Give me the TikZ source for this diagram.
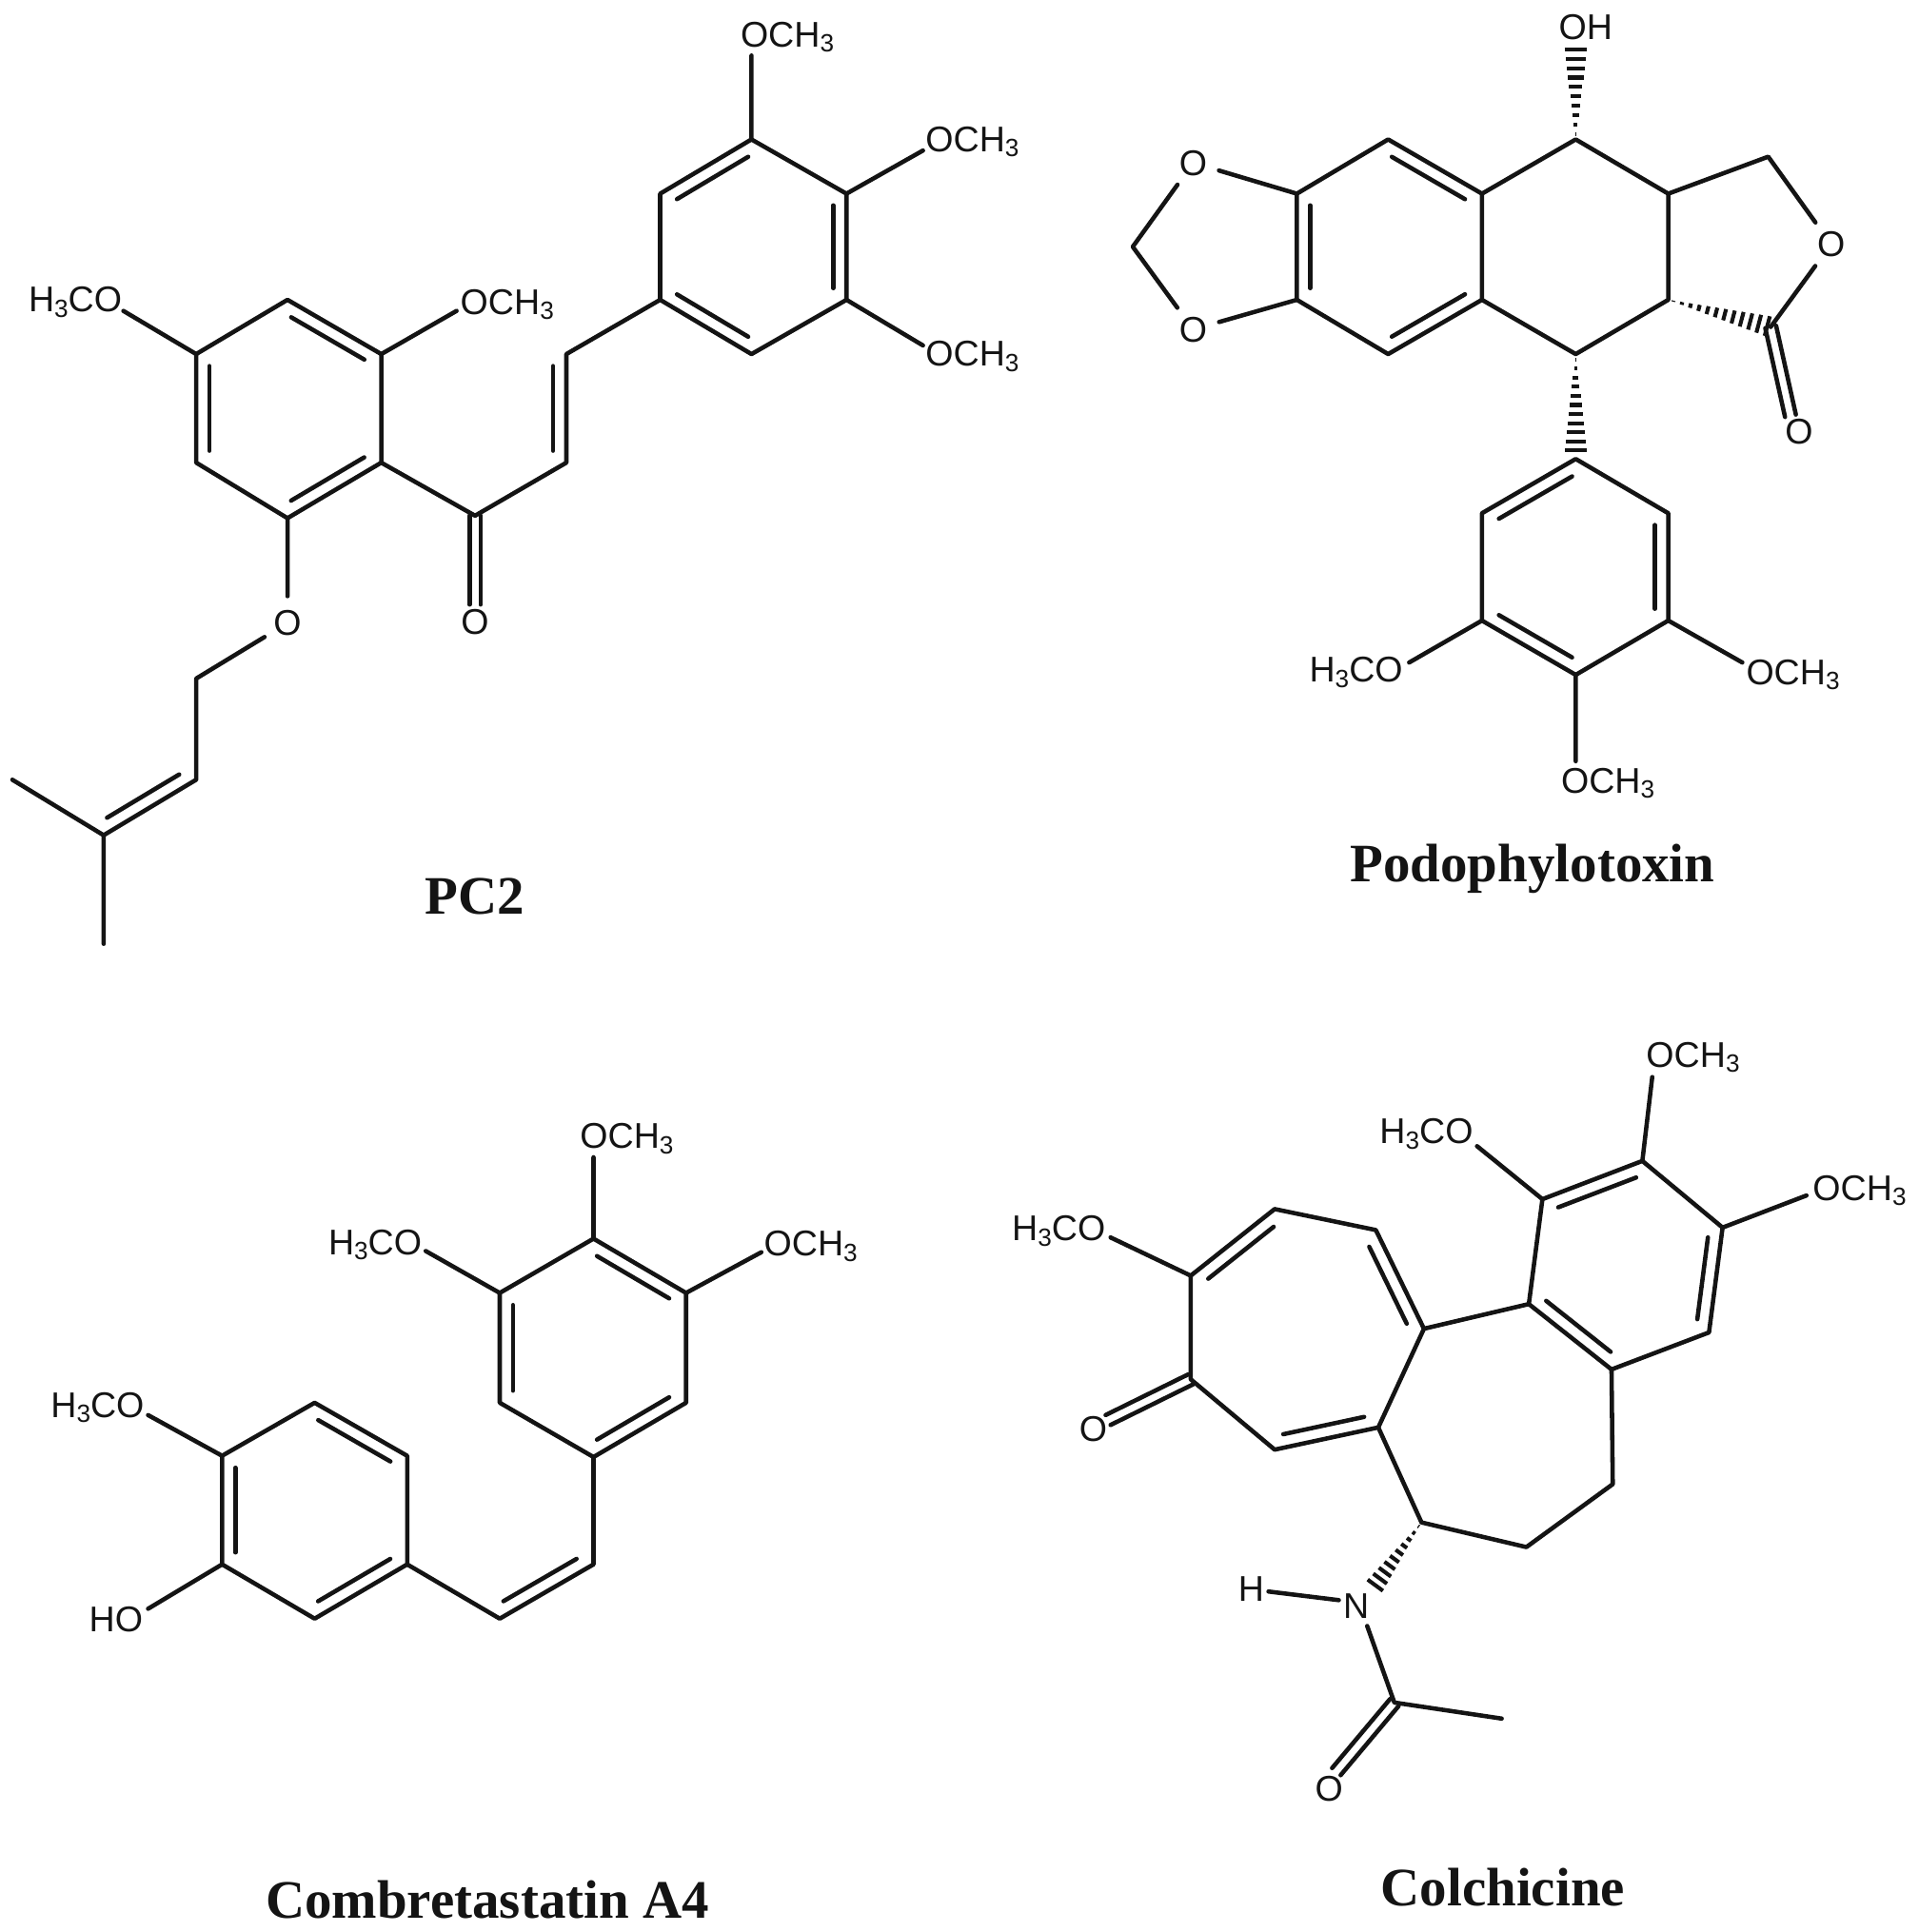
\documentclass[tikz,border=0pt]{standalone}
\usepackage{fontspec}
\setmainfont{Liberation Sans}
\newfontfamily\capfont{Liberation Serif}
\usetikzlibrary{calc}
\newcommand\subthree{\raisebox{-.28ex}{\fontsize{11.5}{11.5}\selectfont 3}}
\newcommand\och{OCH\subthree}
\newcommand\hco{H\subthree CO}
% inner line of a double bond: lies to the left of a -> b
\newcommand\dbl[2]{\draw[bond] ($(#1)!.11!(#2)!.215cm!90:(#2)$) -- ($(#1)!.89!(#2)!.215cm!90:(#2)$);}
% symmetric double bond
\newcommand\dbo[2]{\draw[bond] ($(#1)!.09cm!90:(#2)$) -- ($(#2)!.09cm!-90:(#1)$);
  \draw[bond] ($(#1)!.09cm!-90:(#2)$) -- ($(#2)!.09cm!90:(#1)$);}
% hashed wedge: narrow at a, wide at b
\newcommand\hashw[4]{\foreach \i in {1,...,#3}{%
  \pgfmathsetmacro\t{(\i-0.4)/#3}\pgfmathsetmacro\w{\t*#4}%
  \draw[hashl] ($(#1)!\t!(#2)!\w cm!90:(#2)$) -- ($(#1)!\t!(#2)!\w cm!-90:(#2)$);}}
\tikzset{
  bond/.style={line width=2pt,line cap=round,line join=round,color=black!92},
  hashl/.style={line width=1.8pt,color=black!92},
  atom/.style={font=\fontsize{16.5}{16.5}\selectfont,inner sep=0pt,color=black!92},
  oatom/.style={atom,circle,inner sep=2.5pt},
  caption/.style={font=\capfont\bfseries\fontsize{25}{25}\selectfont,inner sep=0pt,color=black!92}
}
\begin{document}
\begin{tikzpicture}[x=0.02cm,y=-0.02cm]
\useasboundingbox (0,0) rectangle (1555,1566);
% ===== PC2 =====
\foreach \n/\x/\y in {pa/609/113,pb/535/157,pc/535/243,pd/609/287,pe/686/243,pf/686/157,
  pv1/459/287,pv2/459/375,pk/385/418,
  qa/233/243,qb/159/287,qc/159/375,qd/233/420,qe/309/375,qf/309/287,
  pch/159/550,pd1/159/632,pd2/84/677,pm1/10/632,pm2/84/765,
  pt1/609/45,pt2/748/122,pt3/748/280,pt4/370/252,pt5/100/252,pko/385/490}
  {\coordinate (\n) at (\x,\y);}
\node[atom] (pl1) at (638,30) {\och};
\node[atom] (pl2) at (788,115) {\och};
\node[atom] (pl3) at (788,289) {\och};
\node[atom] (pl4) at (411,247) {\och};
\node[atom] (pl5) at (61,245) {\hco};
\node[oatom] (po1) at (233,505) {O};
\node[oatom] (po2) at (385,504) {O};
\draw[bond] (pa)--(pb)--(pc)--(pd)--(pe)--(pf)--cycle;
\dbl{pa}{pb}\dbl{pc}{pd}\dbl{pe}{pf}
\draw[bond] (pa)--(pt1) (pf)--(pt2) (pe)--(pt3);
\draw[bond] (pc)--(pv1)--(pv2)--(pk)--(qe);
\dbl{pv2}{pv1}
\dbo{pk}{pko}
\draw[bond] (qa)--(qb)--(qc)--(qd)--(qe)--(qf)--cycle;
\dbl{qb}{qc}\dbl{qd}{qe}\dbl{qf}{qa}
\draw[bond] (qf)--(pt4) (qb)--(pt5);
\draw[bond] (qd)--(po1)--(pch)--(pd1)--(pd2)--(pm1) (pd2)--(pm2);
\dbl{pd2}{pd1}
\node[caption] (cap1) at (385,727) {PC2};
% ===== Podophylotoxin =====
\foreach \n/\x/\y in {ra/1125/113,rb/1051/157,rc/1051/243,rd/1125/287,re/1201/243,rf/1201/157,
  sa/1277/113,sb/1352/157,sc/1352/243,sd/1277/287,
  rch/918/200,lc/1433/127,lk/1435/265,lko/1451/337,oh/1277/37,
  ta/1277/372,tb/1201/416,tc/1201/503,td/1277/547,te/1352/503,tf/1352/416,
  tt1/1142/537,tt2/1412/537,tt3/1277/617,whd/1277/368}
  {\coordinate (\n) at (\x,\y);}
\node[oatom] (ro1) at (967,132) {O};
\node[oatom] (ro2) at (967,267) {O};
\node[oatom] (ro3) at (1484,198) {O};
\node[oatom] (ro4) at (1458,350) {O};
\node[atom] (rl1) at (1285,22) {OH};
\node[atom] (rl2) at (1099,545) {\hco};
\node[atom] (rl3) at (1453,547) {\och};
\node[atom] (rl4) at (1303,635) {\och};
\draw[bond] (ra)--(rb)--(rc)--(rd)--(re)--(rf)--cycle;
\dbl{rb}{rc}\dbl{rd}{re}\dbl{rf}{ra}
\draw[bond] (rf)--(sa)--(sb)--(sc)--(sd)--(re);
\draw[bond] (rb)--(ro1)--(rch)--(ro2)--(rc);
\draw[bond] (sb)--(lc)--(ro3)--(lk);
\hashw{sc}{lk}{12}{.17}
\dbo{lk}{lko}
\hashw{sa}{oh}{10}{.19}
\hashw{sd}{whd}{11}{.19}
\draw[bond] (ta)--(tb)--(tc)--(td)--(te)--(tf)--cycle;
\dbl{ta}{tb}\dbl{tc}{td}\dbl{te}{tf}
\draw[bond] (tc)--(tt1) (te)--(tt2) (td)--(tt3);
\node[caption] (cap2) at (1242,704) {Podophylotoxin};
% ===== Combretastatin A4 =====
\foreach \n/\x/\y in {ua/481/1004,ub/405/1048,uc/405/1137,ud/481/1181,ue/556/1137,uf/556/1048,
  uv1/481/1268,uv2/405/1312,
  va/255/1137,vb/180/1180,vc/180/1268,vd/255/1312,ve/330/1268,vf/330/1180,
  ut1/481/938,ut2/345/1014,ut3/617/1015,ut4/120/1147,ut5/120/1304}
  {\coordinate (\n) at (\x,\y);}
\node[atom] (ul1) at (508,923) {\och};
\node[atom] (ul2) at (304,1009) {\hco};
\node[atom] (ul3) at (657,1010) {\och};
\node[atom] (ul4) at (79,1141) {\hco};
\node[atom] (ul5) at (94,1313) {HO};
\draw[bond] (ua)--(ub)--(uc)--(ud)--(ue)--(uf)--cycle;
\dbl{ub}{uc}\dbl{ud}{ue}\dbl{uf}{ua}
\draw[bond] (ua)--(ut1) (ub)--(ut2) (uf)--(ut3);
\draw[bond] (ud)--(uv1)--(uv2)--(ve);
\dbl{uv2}{uv1}
\draw[bond] (va)--(vb)--(vc)--(vd)--(ve)--(vf)--cycle;
\dbl{vb}{vc}\dbl{vd}{ve}\dbl{vf}{va}
\draw[bond] (vb)--(ut4) (vc)--(ut5);
\node[caption] (cap3) at (395,1540) {Combretastatin A4};
% ===== Colchicine =====
\foreach \n/\x/\y in {wa/1250/972,wb/1331/941,wc/1396/995,wd/1385/1080,we/1306/1110,wf/1239/1057,
  xa/1154/1077,xb/1117/1157,xc/1152/1234,xd/1237/1254,xe/1307/1203,
  ya/1115/997,yb/1033/980,yc/965/1034,yd/965/1118,ye/1033/1175,
  kko/898/1151,ac/1130/1380,ame/1217/1393,aco/1083/1436,
  wt1/900/1003,wt2/1197/929,wt3/1339/873,wt4/1464/969,
  nw/1113/1287,nb/1108/1318,hn1/1028/1290,hn2/1085/1297}
  {\coordinate (\n) at (\x,\y);}
\node[atom] (wl1) at (858,998) {\hco};
\node[atom] (wl2) at (1156,919) {\hco};
\node[atom] (wl3) at (1372,857) {\och};
\node[atom] (wl4) at (1507,965) {\och};
\node[oatom] (wo1) at (886,1158) {O};
\node[oatom] (wo2) at (1077,1450) {O};
\node[atom] (wn) at (1099,1302) {N};
\node[atom] (wh) at (1014,1288) {H};
\draw[bond] (wa)--(wf)--(we)--(wd)--(wc)--(wb)--cycle;
\dbl{wf}{we}\dbl{wd}{wc}\dbl{wb}{wa}
\draw[bond] (wf)--(xa)--(xb)--(xc)--(xd)--(xe)--(we);
\draw[bond] (xa)--(ya)--(yb)--(yc)--(yd)--(ye)--(xb);
\dbl{xa}{ya}\dbl{yb}{yc}\dbl{ye}{xb}
\dbo{yd}{kko}
\draw[bond] (yc)--(wt1) (wa)--(wt2) (wb)--(wt3) (wc)--(wt4);
\hashw{xc}{nw}{10}{.16}
\draw[bond] (hn1)--(hn2) (nb)--(ac)--(ame);
\dbo{ac}{aco}
\node[caption] (cap4) at (1218,1530) {Colchicine};
\end{tikzpicture}
\end{document}
